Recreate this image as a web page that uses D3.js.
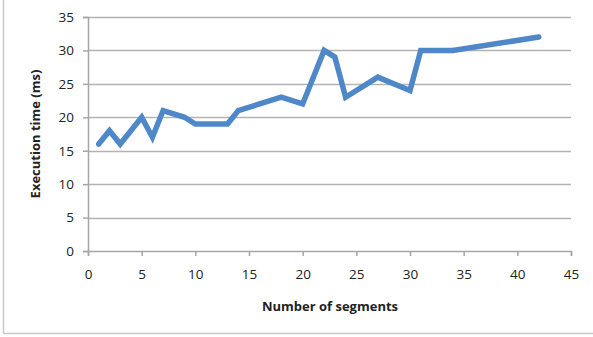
<!DOCTYPE html>
<html>
<head>
<meta charset="utf-8">
<script src="https://cdn.jsdelivr.net/npm/d3@7"></script>
<style>
  html, body { margin: 0; padding: 0; background: #fff; }
  svg { display: block; }
  text { font-family: "Open Sans", "Liberation Sans", sans-serif; fill: #222; }
</style>
</head>
<body>
<script>
// Execution time measured per number of segments
const segments = [1, 2, 3, 5, 6, 7, 9, 10, 13, 14, 18, 20, 22, 23, 24, 27, 30, 31, 34, 42];
const execTimes = [16, 18, 16, 20, 17, 21, 20, 19, 19, 21, 23, 22, 30, 29, 23, 26, 24, 30, 30, 32];
const xTicks = [0, 5, 10, 15, 20, 25, 30, 35, 40, 45];
const yTicks = [0, 5, 10, 15, 20, 25, 30, 35];
const xTitle = "Number of segments";
const yTitle = "Execution time (ms)";

const W = 593, H = 337;
const svg = d3.select("body").append("svg").attr("width", W).attr("height", H);

// frame edges
svg.append("line").attr("x1", 3.5).attr("x2", 3.5).attr("y1", 0).attr("y2", 333.5)
  .attr("stroke", "#c8c8c8").attr("stroke-width", 1.5);
svg.append("line").attr("x1", 3.5).attr("x2", W).attr("y1", 333.5).attr("y2", 333.5)
  .attr("stroke", "#c8c8c8").attr("stroke-width", 1.5);

const x = d3.scaleLinear().domain([0, 45]).range([88, 571]);
const y = d3.scaleLinear().domain([0, 35]).range([251, 17]);

// horizontal gridlines
svg.append("g").selectAll("line").data(yTicks.filter(d => d > 0)).join("line")
  .attr("x1", x(0)).attr("x2", x(45))
  .attr("y1", d => Math.round(y(d)) + 0.5).attr("y2", d => Math.round(y(d)) + 0.5)
  .attr("stroke", "#b3b3b3").attr("stroke-width", 1.5);

// y axis
const yAxis = svg.append("g").attr("transform", `translate(${x(0)},0)`)
  .call(d3.axisLeft(y).tickValues(yTicks).tickSize(5).tickPadding(9).tickFormat(d3.format("d")));
yAxis.select(".domain").attr("stroke", "#a6a6a6").attr("stroke-width", 1.5);
yAxis.selectAll(".tick line").attr("stroke", "#a6a6a6").attr("stroke-width", 1.5);
yAxis.selectAll(".tick text").attr("font-size", 13.5).attr("fill", "#222")
  .style("font-family", "'Open Sans', sans-serif");

// x axis
const xAxis = svg.append("g").attr("transform", `translate(0,${y(0)})`)
  .call(d3.axisBottom(x).tickValues(xTicks).tickSize(5).tickPadding(13).tickFormat(d3.format("d")));
xAxis.select(".domain").attr("stroke", "#a6a6a6").attr("stroke-width", 1.5);
xAxis.selectAll(".tick line").attr("stroke", "#a6a6a6").attr("stroke-width", 1.5);
xAxis.selectAll(".tick text").attr("font-size", 13.5).attr("fill", "#222")
  .style("font-family", "'Open Sans', sans-serif");

// series line
const line = d3.line().x((d, i) => x(segments[i])).y(d => y(d));
svg.append("path").datum(execTimes)
  .attr("d", line)
  .attr("fill", "none")
  .attr("stroke", "#4f88c8")
  .attr("stroke-width", 5.5)
  .attr("stroke-linejoin", "miter")
  .attr("stroke-linecap", "round");

// axis titles
svg.append("text").attr("x", 330).attr("y", 311).attr("text-anchor", "middle")
  .attr("font-size", 13).attr("font-weight", "bold").text(xTitle);
svg.append("text").attr("transform", "translate(40,134) rotate(-90)")
  .attr("text-anchor", "middle").attr("font-size", 13).attr("font-weight", "bold").text(yTitle);
</script>
</body>
</html>
